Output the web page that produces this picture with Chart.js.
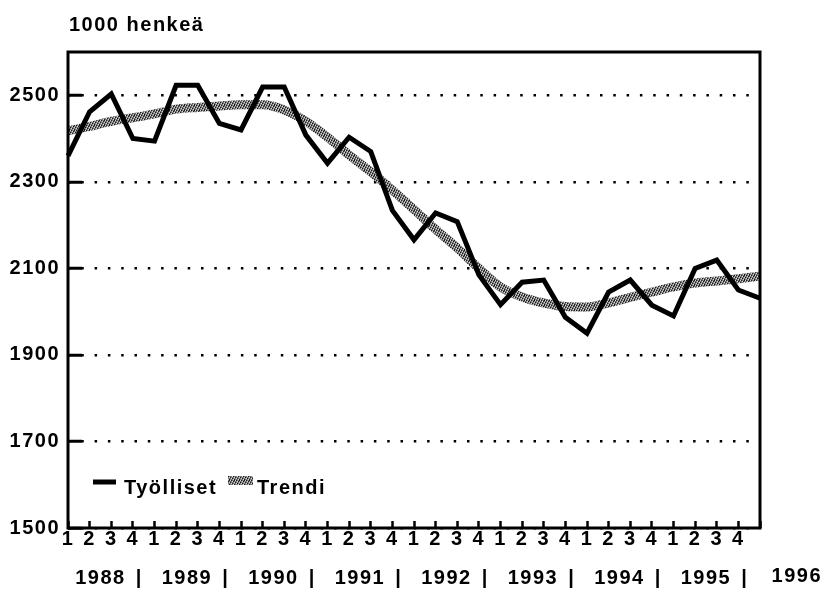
<!DOCTYPE html>
<html>
<head>
<meta charset="utf-8">
<script src="https://cdn.jsdelivr.net/npm/chart.js@4/dist/chart.umd.min.js"></script>
<style>
  html, body { margin: 0; padding: 0; background: #fff; }
  #wrap { width: 830px; height: 598px; position: relative; }
</style>
</head>
<body>
<div id="wrap"><canvas id="c" width="830" height="598"></canvas></div>
<script>
// ---- data ----
const unitTitle = '1000 henkeä';
const years = ['1988', '1989', '1990', '1991', '1992', '1993', '1994', '1995', '1996'];
const quarterLabels = ['1', '2', '3', '4'];
const yTicks = [1500, 1700, 1900, 2100, 2300, 2500];
const tyolliset = [2360, 2462, 2503, 2400, 2394, 2523, 2523, 2435, 2420, 2519, 2519, 2408,
                   2343, 2403, 2370, 2234, 2166, 2228, 2208, 2085, 2016, 2068, 2073, 1987,
                   1950, 2045, 2073, 2015, 1990, 2100, 2119, 2050, 2031];
const trendi = [2418, 2428, 2440, 2448, 2457, 2468, 2472, 2475, 2478, 2478, 2466, 2440,
                2403, 2362, 2323, 2281, 2236, 2190, 2147, 2100, 2057, 2034, 2020, 2012,
                2011, 2020, 2033, 2045, 2057, 2066, 2071, 2076, 2082];

const categories = [];
years.slice(0, 8).forEach(y => quarterLabels.forEach(q => categories.push(y + ' Q' + q)));
categories.push(years[8] + ' Q1');

// ---- styles ----
const FONT = "'Liberation Sans', Arial, Helvetica, sans-serif";
const FSIZE = 20;
const SPACING = '1.5px';

const pc = document.createElement('canvas');
pc.width = 5; pc.height = 5;
const p = pc.getContext('2d');
p.fillStyle = '#7a7a7a'; p.fillRect(0, 0, 5, 5);
p.fillStyle = '#d8d8d8';
[[0, 0], [2, 1], [4, 2], [1, 3], [3, 4]].forEach(([x, y]) => p.fillRect(x, y, 1, 1));
p.fillStyle = '#1a1a1a';
[[1, 0], [3, 1], [0, 2], [2, 3], [4, 4], [4, 0]].forEach(([x, y]) => p.fillRect(x, y, 1, 1));
const ctx = document.getElementById('c').getContext('2d');
const trendPattern = ctx.createPattern(pc, 'repeat');

const spacingPlugin = {
  id: 'spacing',
  beforeUpdate(chart) { chart.ctx.letterSpacing = SPACING; },
  beforeLayout(chart) { chart.ctx.letterSpacing = SPACING; },
  beforeDraw(chart) {
    const c = chart.ctx;
    c.letterSpacing = SPACING;
    c.save();
    c.fillStyle = '#fff';
    c.fillRect(0, 0, chart.width, chart.height);
    c.restore();
  }
};

const decorPlugin = {
  id: 'decor',
  afterDraw(chart) {
    const c = chart.ctx;
    const a = chart.chartArea;
    const xs = chart.scales.x;
    c.save();
    c.letterSpacing = SPACING;
    // frame
    c.strokeStyle = '#000';
    c.lineWidth = 3;
    c.strokeRect(a.left, a.top, a.right - a.left, a.bottom - a.top);
    // title
    c.fillStyle = '#000';
    c.font = 'bold ' + FSIZE + 'px ' + FONT;
    c.textBaseline = 'middle';
    c.textAlign = 'left';
    c.fillText(unitTitle, 69, 25);
    // year row
    c.textAlign = 'center';
    const yy = 578;
    for (let i = 0; i < 8; i++) {
      c.fillText(years[i], xs.getPixelForValue(i * 4 + 1.5), yy);
      c.fillText('|', xs.getPixelForValue(i * 4 + 3.3), yy);
    }
    c.fillText(years[8], xs.getPixelForValue(33.7), yy - 2);
    // legend
    const ds = chart.data.datasets;
    c.textAlign = 'left';
    c.lineCap = 'butt';
    c.strokeStyle = '#000';
    c.lineWidth = 5;
    c.beginPath(); c.moveTo(93, 482); c.lineTo(116, 482); c.stroke();
    c.fillText(ds[0].label, 124, 488);
    c.fillStyle = trendPattern;
    c.fillRect(228, 476, 25, 9);
    c.fillStyle = '#000';
    c.fillText(ds[1].label, 257, 488);
    c.restore();
  }
};

new Chart(ctx, {
  type: 'line',
  data: {
    labels: categories,
    datasets: [
      {
        label: 'Työlliset',
        data: tyolliset,
        borderColor: '#000',
        borderWidth: 5,
        pointRadius: 0,
        tension: 0,
        borderJoinStyle: 'miter',
        fill: false,
        order: 1
      },
      {
        label: 'Trendi',
        data: trendi,
        borderColor: trendPattern,
        borderWidth: 9,
        pointRadius: 0,
        cubicInterpolationMode: 'monotone',
        fill: false,
        order: 2
      }
    ]
  },
  options: {
    responsive: false,
    animation: false,
    layout: { padding: { top: 52, right: 70, left: 0, bottom: 0 } },
    plugins: {
      legend: { display: false },
      title: { display: false },
      tooltip: { enabled: false }
    },
    scales: {
      x: {
        type: 'category',
        offset: false,
        afterFit(s) { s.height = 70; },
        border: { display: false },
        grid: {
          drawOnChartArea: false,
          drawTicks: true,
          tickLength: -7,
          tickWidth: 2.5,
          tickColor: '#000'
        },
        ticks: {
          autoSkip: false,
          maxRotation: 0,
          minRotation: 0,
          padding: 6,
          color: '#000',
          font: { family: FONT, size: FSIZE, weight: 'bold' },
          callback: (v, i) => (i < 32 ? quarterLabels[i % 4] : '')
        }
      },
      y: {
        type: 'linear',
        min: 1500,
        max: 2600,
        afterFit(s) { s.width = 68; },
        afterBuildTicks(s) { s.ticks = yTicks.map(v => ({ value: v })); },
        border: { display: false, dash: [2.5, 10.8] },
        grid: {
          color: '#000',
          lineWidth: 2.5,
          drawTicks: true,
          tickLength: -14,
          tickWidth: 3,
          tickColor: '#000'
        },
        ticks: {
          padding: 22,
          color: '#000',
          font: { family: FONT, size: FSIZE, weight: 'bold' },
          callback: v => String(v)
        }
      }
    }
  },
  plugins: [spacingPlugin, decorPlugin]
});
</script>
</body>
</html>
